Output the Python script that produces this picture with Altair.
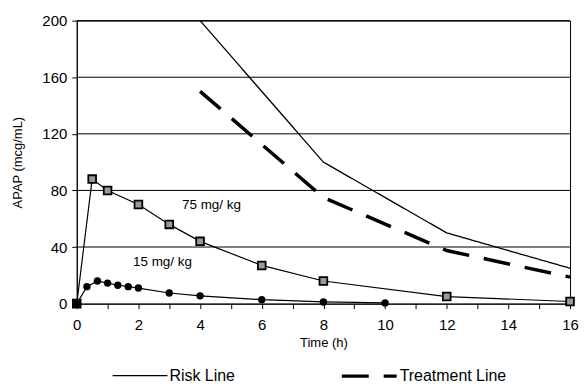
import altair as alt
import pandas as pd

# ---- data ----
t75 = [0, 0.5, 1, 2, 3, 4, 6, 8, 12, 16]
c75 = [0, 88, 80, 70, 56, 44, 27, 16, 5, 1.5]

t15 = [0, 0.33, 0.67, 1, 1.33, 1.67, 2, 3, 4, 6, 8, 10]
c15 = [0, 12, 16, 14.5, 13, 12, 11, 7.5, 5.5, 2.8, 1.2, 0.5]

risk_t = [4, 8, 12, 16]
risk_c = [200, 100, 50, 25]
treat_t = [4, 8, 12, 16]
treat_c = [150, 75, 37.5, 18.75]

line_names = ["Risk Line", "Treatment Line"]
grid_vals = [40, 80, 120, 160, 200]

label_text = ["75 mg/ kg", "15 mg/ kg"]
label_t = [4.37, 2.78]
label_c = [70, 29.5]

FONT = "Liberation Sans"

# ---- tables ----
d75 = pd.DataFrame({"t": t75, "c": c75})
d15 = pd.DataFrame({"t": t15, "c": c15})
dnomo = pd.DataFrame({
    "t": risk_t + treat_t,
    "c": risk_c + treat_c,
    "name": [line_names[0]] * len(risk_t) + [line_names[1]] * len(treat_t),
})
dgrid = pd.DataFrame({"c": grid_vals})
dlab = pd.DataFrame({"t": label_t, "c": label_c, "txt": label_text})

xscale = alt.Scale(domain=[0, 16], nice=False, zero=False)
yscale = alt.Scale(domain=[0, 200], nice=False)

xaxis = alt.Axis(
    values=list(range(0, 17)),
    labelExpr="datum.value % 2 == 0 ? datum.label : ''",
    grid=False, tickSize=5, tickColor="black", domainColor="black",
    labelFont=FONT, labelFontSize=15, labelColor="black", labelPadding=9,
    labelFlush=False,
    title="Time  (h)", titleFont=FONT, titleFontSize=13, titleFontWeight="normal",
    titleColor="black", titlePadding=4,
)
yaxis = alt.Axis(
    values=list(range(0, 201, 20)),
    labelExpr="datum.value % 40 == 0 ? datum.label : ''",
    grid=False, tickSize=5, tickColor="black", domainColor="black",
    labelFont=FONT, labelFontSize=15, labelColor="black", labelPadding=5,
    labelFlush=False,
    title="APAP (mcg/mL)", titleFont=FONT, titleFontSize=13, titleFontWeight="normal",
    titleColor="black", titlePadding=17,
)

X = alt.X("t:Q", scale=xscale, axis=xaxis)
Y = alt.Y("c:Q", scale=yscale, axis=yaxis)

grid = alt.Chart(dgrid).mark_rule(color="black", strokeWidth=1).encode(
    y=alt.Y("c:Q", scale=yscale)
)

legend = alt.Legend(
    title=None, orient="none", direction="horizontal",
    legendX=35, legendY=327,
    symbolType="stroke", symbolSize=3025, symbolStrokeColor="black",
    labelFont=FONT, labelFontSize=16, labelColor="black",
    columnPadding=100, labelOffset=1,
)

nomo = alt.Chart(dnomo).mark_line(color="black", strokeCap="butt").encode(
    x=X, y=Y,
    strokeDash=alt.StrokeDash("name:N",
                              scale=alt.Scale(domain=line_names, range=[[1, 0], [27, 15]]),
                              legend=legend),
    strokeWidth=alt.StrokeWidth("name:N",
                                scale=alt.Scale(domain=line_names, range=[1.3, 3.5]),
                                legend=legend),
)

l75 = alt.Chart(d75).mark_line(color="black", strokeWidth=1.2).encode(x=X, y=Y)
p75 = alt.Chart(d75).mark_point(shape="square", filled=True, fill="#9a9a9a",
                                stroke="black", strokeWidth=1.8, size=60,
                                opacity=1).encode(x=X, y=Y)
l15 = alt.Chart(d15).mark_line(color="black", strokeWidth=1.2).encode(x=X, y=Y)
p15 = alt.Chart(d15).mark_circle(color="black", size=55, opacity=1).encode(x=X, y=Y)

labels = alt.Chart(dlab).mark_text(font=FONT, fontSize=13.5, color="black").encode(
    x=X, y=Y, text="txt:N"
)

chart = alt.layer(grid, nomo, l75, l15, p75, p15, labels).properties(
    width=495, height=284,
    autosize=alt.AutoSizeParams(type="none"),
    padding={"left": 69, "top": 12, "right": 10, "bottom": 83},
    background="white",
).configure_view(stroke="black", strokeWidth=1)

chart.save("out.html", embed_options={"renderer": "svg", "actions": False})
